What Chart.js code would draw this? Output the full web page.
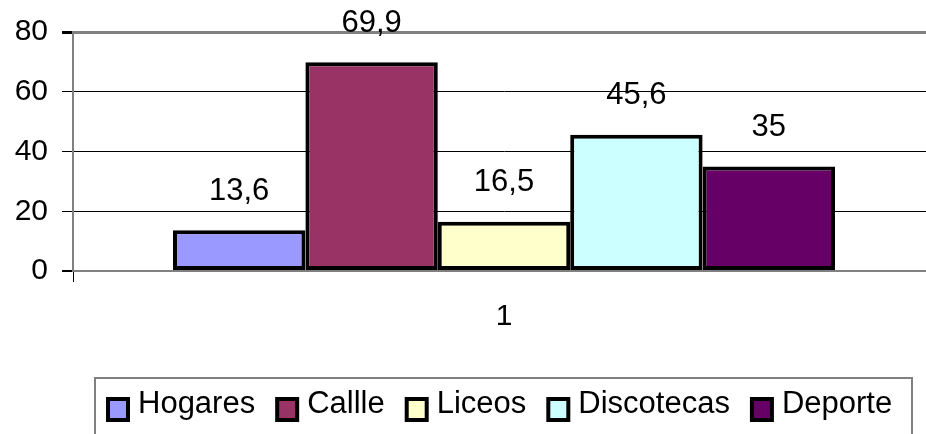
<!DOCTYPE html>
<html>
<head>
<meta charset="utf-8">
<script src="https://cdn.jsdelivr.net/npm/chart.js@4/dist/chart.umd.min.js"></script>
<style>
  html, body { margin: 0; padding: 0; background: #fff; overflow: hidden; }
  canvas { display: block; }
</style>
</head>
<body>
<canvas id="chart" width="950" height="434"></canvas>
<script>
const categories = ["1"];
const seriesNames = ["Hogares", "Callle", "Liceos", "Discotecas", "Deporte"];
const seriesValues = [13.6, 69.9, 16.5, 45.6, 35];
const seriesColors = ["#9999FF", "#993366", "#FFFFCC", "#CCFFFF", "#660066"];
const yTicks = [0, 20, 40, 60, 80];

const FONT = "Liberation Sans";

const datasets = seriesNames.map((name, i) => ({
  label: name,
  data: [seriesValues[i]],
  backgroundColor: seriesColors[i],
  borderColor: "#000",
  borderWidth: 4,
  borderSkipped: false,
  categoryPercentage: 0.768,
  barPercentage: 1,
}));

// values written above each bar, comma as decimal sign
const valueLabels = {
  id: "valueLabels",
  afterDatasetsDraw(chart) {
    const ctx = chart.ctx;
    ctx.save();
    ctx.font = "31px '" + FONT + "'";
    ctx.fillStyle = "#000";
    ctx.textAlign = "center";
    ctx.textBaseline = "middle";
    chart.data.datasets.forEach((ds, i) => {
      const bar = chart.getDatasetMeta(i).data[0];
      const txt = String(ds.data[0]).replace(".", ",");
      ctx.fillText(txt, bar.x, bar.y - 39);
    });
    ctx.restore();
  },
};

// legend in a framed box, Excel style
const boxLegend = {
  id: "boxLegend",
  afterDraw(chart) {
    const ctx = chart.ctx;
    ctx.save();
    ctx.font = "31px '" + FONT + "'";
    ctx.textBaseline = "alphabetic";
    ctx.textAlign = "left";
    let x = 108;
    const boxTop = 399;
    const gap = 22;
    chart.data.datasets.forEach((ds) => {
      ctx.fillStyle = ds.backgroundColor;
      ctx.fillRect(x, boxTop, 20, 21);
      ctx.lineWidth = 4;
      ctx.strokeStyle = "#000";
      ctx.strokeRect(x, boxTop, 20, 21);
      ctx.fillStyle = "#000";
      const tx = x + 20 + 10;
      ctx.fillText(ds.label, tx, 413);
      x = tx + ctx.measureText(ds.label).width + gap;
    });
    ctx.lineWidth = 2;
    ctx.strokeStyle = "#808080";
    ctx.strokeRect(95, 378, 817, 80);
    ctx.restore();
  },
};

new Chart(document.getElementById("chart"), {
  type: "bar",
  data: { labels: categories, datasets: datasets },
  plugins: [valueLabels, boxLegend],
  options: {
    responsive: false,
    animation: false,
    devicePixelRatio: 1,
    layout: { padding: { left: 0, right: 15, top: 32, bottom: 82 } },
    plugins: {
      legend: { display: false },
      tooltip: { enabled: false },
    },
    scales: {
      x: {
        grid: {
          offset: true,
          drawOnChartArea: false,
          drawTicks: true,
          tickLength: 11,
          color: "#000",
        },
        border: { color: "#808080", width: 2 },
        ticks: {
          color: "#000",
          padding: 17,
          font: { family: FONT, size: 30 },
        },
      },
      y: {
        min: 0,
        max: 80,
        afterBuildTicks(scale) {
          scale.ticks = yTicks.map((v) => ({ value: v }));
        },
        afterFit(scale) {
          scale.width = 73;
        },
        grid: {
          color: (c) => (c.tick && (c.tick.value === 80 || c.tick.value === 0) ? "#808080" : "#000"),
          lineWidth: (c) => (c.tick && c.tick.value === 80 ? 3 : c.tick && c.tick.value === 0 ? 2 : 1),
          tickColor: "#000",
          tickLength: 11,
        },
        border: { color: "#808080", width: 2 },
        ticks: {
          color: "#000",
          padding: 14,
          font: { family: FONT, size: 30 },
        },
      },
    },
  },
});
</script>
</body>
</html>
